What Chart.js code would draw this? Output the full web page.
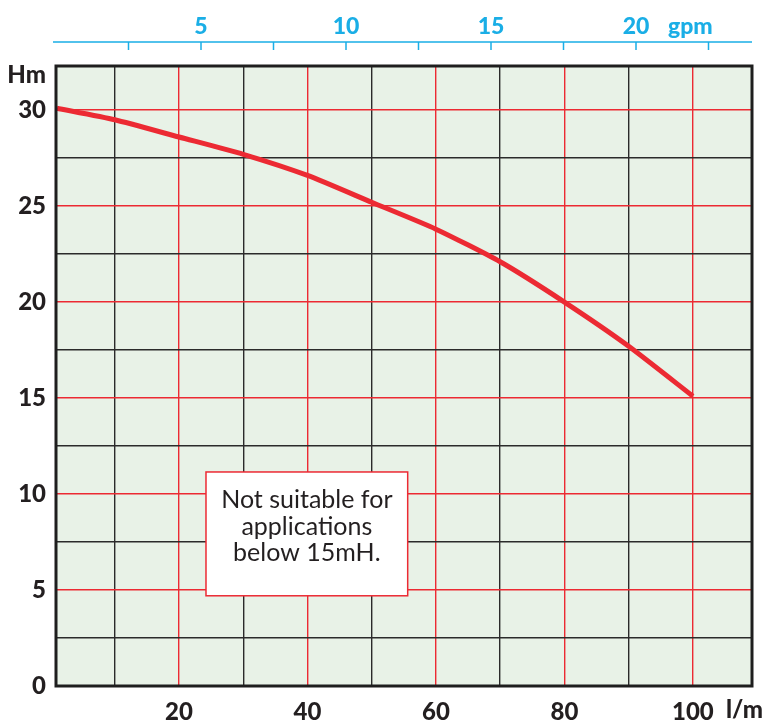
<!DOCTYPE html>
<html>
<head>
<meta charset="utf-8">
<script src="https://cdn.jsdelivr.net/npm/chart.js@4/dist/chart.umd.min.js"></script>
<style>
  html, body { margin: 0; padding: 0; background: #fff; }
  #wrap { width: 765px; height: 722px; }
</style>
</head>
<body>
<div id="wrap"><canvas id="myChart" width="765" height="722"></canvas></div>
<script>
// curve data
const flowLpm = [1, 10, 20, 30, 40, 50, 60, 70, 80, 90, 100];
const headM = [30.1, 29.5, 28.6, 27.7, 26.6, 25.2, 23.8, 22.1, 20.0, 17.7, 15.1];

// axes
const xTicks = [10, 20, 30, 40, 50, 60, 70, 80, 90, 100];
const xLabels = [20, 40, 60, 80, 100];
const yTicks = [2.5, 5, 7.5, 10, 12.5, 15, 17.5, 20, 22.5, 25, 27.5, 30];
const yLabels = [0, 5, 10, 15, 20, 25, 30];
const gpmTicks = [2.5, 5, 7.5, 10, 12.5, 15, 17.5, 20, 22.5];
const gpmLabels = [5, 10, 15, 20];

const noteLines = ['Not suitable for', 'applications', 'below 15mH.'];

const RED = '#ec2a33';
const DARK = '#2b2b2b';
const BLUE = '#1aaee6';
const TXT = '#231f20';
const FAM = 'Lato, "DejaVu Sans", sans-serif';
const BOLD = '900 24px ' + FAM;

const chartDeco = {
  id: 'chartDeco',
  beforeDraw(chart) {
    const a = chart.chartArea;
    const c = chart.ctx;
    c.save();
    c.fillStyle = '#e8f2e7';
    c.fillRect(a.left, a.top, a.right - a.left, a.bottom - a.top);
    c.restore();
  },
  afterDatasetsDraw(chart) {
    const a = chart.chartArea;
    const c = chart.ctx;
    const x = chart.scales.x, y = chart.scales.y, g = chart.scales.gpm;
    c.save();

    // frame
    c.strokeStyle = '#1e1e1e';
    c.lineWidth = 3;
    c.strokeRect(a.left, a.top, a.right - a.left, a.bottom - a.top);

    // note box
    const bx1 = x.getPixelForValue(24.2), bx2 = x.getPixelForValue(55.6);
    const by1 = y.getPixelForValue(11.15), by2 = y.getPixelForValue(4.7);
    c.fillStyle = '#fff';
    c.fillRect(bx1, by1, bx2 - bx1, by2 - by1);
    c.strokeStyle = RED;
    c.lineWidth = 1.5;
    c.strokeRect(bx1, by1, bx2 - bx1, by2 - by1);
    c.fillStyle = TXT;
    c.font = '25px ' + FAM;
    c.textAlign = 'center';
    c.textBaseline = 'middle';
    const cx = (bx1 + bx2) / 2;
    noteLines.forEach((t, i) => {
      c.fillText(t, cx, by1 + 28 + i * 26.5);
    });

    // gpm axis on top
    const ay = 42;
    c.strokeStyle = BLUE;
    c.lineWidth = 1.5;
    c.beginPath();
    c.moveTo(a.left - 3, ay);
    c.lineTo(a.right, ay);
    gpmTicks.forEach(v => {
      const px = g.getPixelForValue(v);
      c.moveTo(px, ay);
      c.lineTo(px, ay + 8);
    });
    c.stroke();
    c.fillStyle = BLUE;
    c.font = '900 23px ' + FAM;
    c.textBaseline = 'middle';
    gpmLabels.forEach(v => {
      c.fillText(String(v), g.getPixelForValue(v), 27);
    });
    c.textAlign = 'left';
    c.fillText('gpm', 668, 27);

    // axis units
    c.fillStyle = TXT;
    c.font = BOLD;
    c.textAlign = 'right';
    c.fillText('Hm', 46, 75);
    c.textAlign = 'left';
    c.fillText('l/m', 726, 710);
    c.restore();
  }
};

const ctx = document.getElementById('myChart').getContext('2d');
const myChart = new Chart(ctx, {
  type: 'line',
  data: {
    datasets: [{
      data: flowLpm.map((v, i) => ({ x: v, y: headM[i] })),
      borderColor: RED,
      borderWidth: 5,
      pointRadius: 0,
      fill: false,
      tension: 0.2,
      clip: false
    }]
  },
  options: {
    responsive: false,
    animation: false,
    layout: { padding: { top: 66, right: 13, left: 0, bottom: 0 } },
    plugins: {
      legend: { display: false },
      tooltip: { enabled: false }
    },
    scales: {
      x: {
        type: 'linear',
        min: 0.85,
        max: 109.2,
        afterBuildTicks: s => { s.ticks = xTicks.map(v => ({ value: v })); },
        afterFit: s => { s.height = 36; },
        border: { display: false },
        grid: {
          drawTicks: false,
          lineWidth: 1.4,
          color: c => (c.tick && c.tick.value % 20 === 0) ? RED : DARK
        },
        ticks: {
          padding: 12,
          maxRotation: 0,
          autoSkip: false,
          color: TXT,
          font: { family: FAM, size: 24, weight: '900' },
          callback: v => xLabels.includes(v) ? String(v) : ''
        }
      },
      y: {
        type: 'linear',
        min: 0,
        max: 32.3,
        afterBuildTicks: s => { s.ticks = [0].concat(yTicks).map(v => ({ value: v })); },
        afterFit: s => { s.width = 56; },
        border: { display: false },
        grid: {
          drawTicks: false,
          lineWidth: 1.4,
          color: c => {
            if (!c.tick || c.tick.value === 0) return 'rgba(0,0,0,0)';
            return c.tick.value % 5 === 0 ? RED : DARK;
          }
        },
        ticks: {
          padding: 10,
          autoSkip: false,
          color: TXT,
          font: { family: FAM, size: 24, weight: '900' },
          callback: v => yLabels.includes(v) ? String(v) : ''
        }
      },
      gpm: {
        type: 'linear',
        axis: 'x',
        position: 'top',
        display: false,
        min: 0,
        max: 24
      }
    }
  },
  plugins: [chartDeco]
});
</script>
</body>
</html>
